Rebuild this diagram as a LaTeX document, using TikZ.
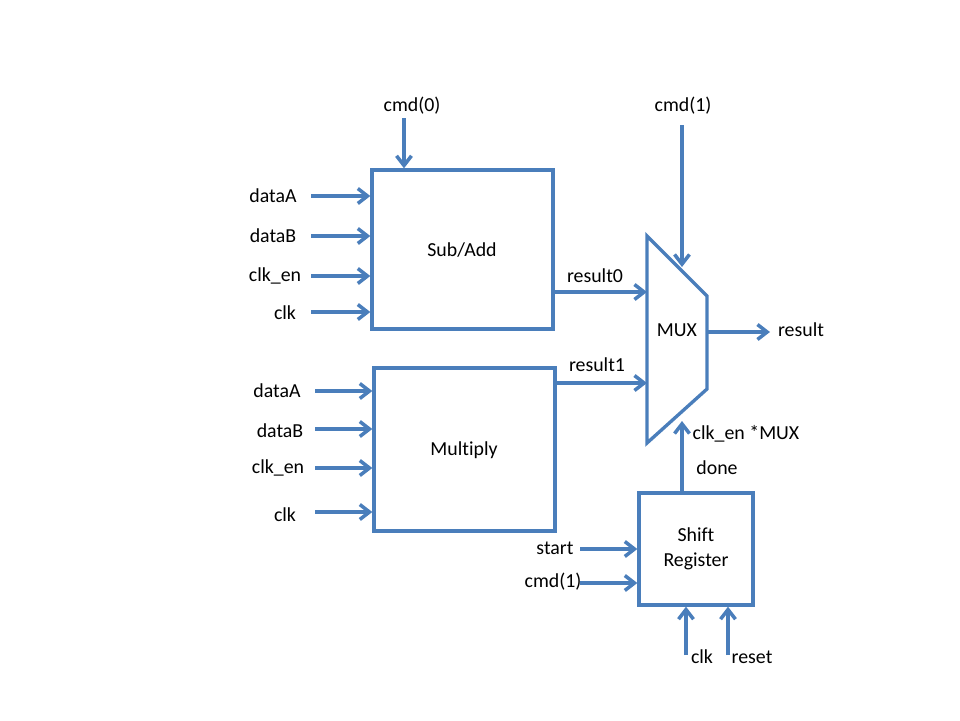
\documentclass[tikz,border=0pt]{standalone}
\usepackage{fontspec}
\setmainfont{Carlito}[Ligatures=NoCommon]
\usetikzlibrary{arrows.meta,calc}
\definecolor{linec}{HTML}{4A7EBB}
\tikzset{
  blk/.style={draw=linec, line width=1.9pt, fill=white, inner sep=0pt, align=center,
    font=\fontsize{11.3}{13.6}\selectfont},
  sig/.style={draw=linec, line width=2pt, -{Straight Barb[length=5.5pt,width=8.5pt]}},
  lbl/.style={font=\fontsize{11.3}{13.6}\selectfont, inner sep=0pt, text=black},
}
\begin{document}
\begin{tikzpicture}[x=0.02cm, y=-0.02cm]
\useasboundingbox (0,0) rectangle (960,720);

% blocks
\node[blk, minimum width=3.62cm, minimum height=3.18cm] (sa) at (462.5,249.5) {};
\node[lbl] (satxt) at (462,250) {Sub/Add};
\node[blk, minimum width=3.62cm, minimum height=3.26cm] (mu) at (464.5,449.5) {};
\node[lbl] (mutxt) at (464,450) {Multiply};
\node[blk, minimum width=2.28cm, minimum height=2.24cm] (sr) at (696,549) {};
\node[lbl, align=center, font=\fontsize{11.3}{23}\selectfont] (srtxt) at (696,549) {Shift\\[-9pt]Register};

% mux
\coordinate (mtl) at (647,236);
\coordinate (mtr) at (707,296);
\coordinate (mbr) at (707,389);
\coordinate (mbl) at (647,443);
\draw[draw=linec, line width=1.9pt, line join=miter] (mtl) -- (mtr) -- (mbr) -- (mbl) -- cycle;
\node[lbl] (mux) at (677,330) {MUX};

% Sub/Add inputs
\node[lbl] (cmd0) at (412,106) {cmd(0)};
\coordinate (c0) at (404,118);
\draw[sig] (c0) -- (c0 |- sa.north);
\node[lbl] (saA) at (273,196) {dataA};
\node[lbl] (saB) at (273,236) {dataB};
\node[lbl] (saE) at (275,276) {clk\_en};
\node[lbl] (saC) at (285,313) {clk};
\coordinate (sa1) at (311,196);
\coordinate (sa2) at (311,236);
\coordinate (sa3) at (311,276);
\coordinate (sa4) at (311,312);
\foreach \c in {sa1,sa2,sa3,sa4} \draw[sig] (\c) -- (\c -| sa.west);

% Multiply inputs
\node[lbl] (muA) at (277,391) {dataA};
\node[lbl] (muB) at (280,431) {dataB};
\node[lbl] (muE) at (278,468) {clk\_en};
\node[lbl] (muC) at (285,515) {clk};
\coordinate (mu1) at (315,391);
\coordinate (mu2) at (315,429);
\coordinate (mu3) at (315,468);
\coordinate (mu4) at (315,512);
\foreach \c in {mu1,mu2,mu3,mu4} \draw[sig] (\c) -- (\c -| mu.west);

% results into mux
\coordinate (r0) at (556,292);
\coordinate (r1) at (556,383);
\draw[sig] (r0 -| sa.east) -- (r0 -| mtl);
\draw[sig] (r1 -| mu.east) -- (r1 -| mtl);
\node[lbl] (r0t) at (595,276) {result0};
\node[lbl] (r1t) at (597,365) {result1};

% cmd(1) into mux
\node[lbl] (cmd1) at (683,106) {cmd(1)};
\coordinate (c1) at (682,125);
\coordinate (c1e) at (682,267);
\draw[sig] (c1) -- (c1e);

% mux output
\coordinate (mo) at (707,332);
\coordinate (moe) at (770,332);
\draw[sig] (mo) -- (moe);
\node[lbl] (res) at (801,330) {result};

% done
\coordinate (de) at (682,421);
\draw[sig] (sr.north -| de) -- (de);
\node[lbl] (cem) at (746,434) {clk\_en *MUX};
\node[lbl] (done) at (717,468) {done};

% shift register inputs
\node[lbl] (start) at (555,548) {start};
\node[lbl] (cmd1b) at (553,582) {cmd(1)};
\coordinate (s1) at (580,549);
\coordinate (s2) at (580,583);
\draw[sig] (s1) -- (s1 -| sr.west);
\draw[sig] (s2) -- (s2 -| sr.west);
\coordinate (b1) at (686,655);
\coordinate (b2) at (728,655);
\draw[sig] (b1) -- (b1 |- sr.south);
\draw[sig] (b2) -- (b2 |- sr.south);
\node[lbl] (clkb) at (702,657) {clk};
\node[lbl] (rst) at (752,657) {reset};
\end{tikzpicture}
\end{document}
